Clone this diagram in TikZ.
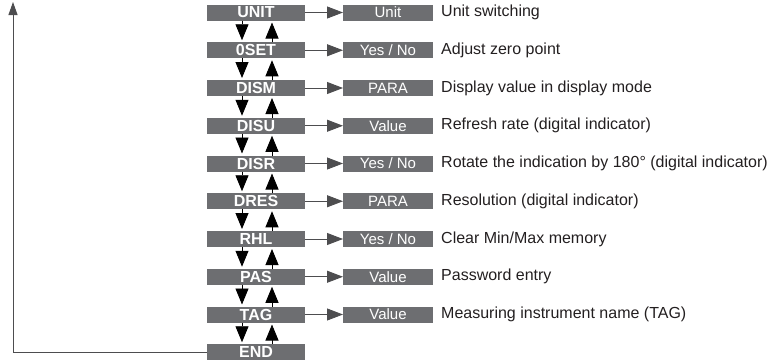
\documentclass[tikz,border=0pt]{standalone}
\usepackage{fontspec}
\setmainfont{Liberation Sans}
\usetikzlibrary{arrows.meta,positioning}
\definecolor{menuGray}{HTML}{6D6E71}
\definecolor{lineGray}{HTML}{4D4D4F}
\definecolor{textBlack}{HTML}{231F20}

\begin{document}
\begin{tikzpicture}[x=1pt, y=-1pt,
node distance=21.75pt and 38pt,
every node/.style={font=\fontsize{16}{18}\selectfont},
menu/.style={fill=menuGray, text=white, minimum width=98pt, minimum height=16pt, inner sep=0pt, outer sep=0pt, font=\fontsize{16}{18}\selectfont\bfseries},
param/.style={fill=menuGray, text=white, minimum width=90pt, minimum height=16pt, inner sep=0pt, outer sep=0pt, font=\fontsize{15}{17}\selectfont},
desc/.style={anchor=west, text=textBlack, inner sep=0pt},
arr/.style={-{Triangle[length=16pt,width=12pt]}, draw=lineGray, line width=0.9pt},
nav/.style={-{Triangle[length=16pt,width=13pt]}, draw=black, line width=0.9pt, shorten >=2pt},
back/.style={-{Triangle[length=13pt,width=9pt]}, draw=lineGray, line width=1pt}
]
\useasboundingbox (0,0) rectangle (771,362);

% Menu column
\node[menu] (mUnit) at (256,12.5) {UNIT};
\node[menu, below=of mUnit] (mZset) {0SET};
\node[menu, below=of mZset] (mDism) {DISM};
\node[menu, below=of mDism] (mDisu) {DISU};
\node[menu, below=of mDisu] (mDisr) {DISR};
\node[menu, below=of mDisr] (mDres) {DRES};
\node[menu, below=of mDres] (mRhl) {RHL};
\node[menu, below=of mRhl] (mPas) {PAS};
\node[menu, below=of mPas] (mTag) {TAG};
\node[menu, below=of mTag] (mEnd) {END};

% Parameter boxes
\node[param, right=of mUnit] (pUnit) {Unit};
\node[param, right=of mZset] (pZset) {Yes / No};
\node[param, right=of mDism] (pDism) {PARA};
\node[param, right=of mDisu] (pDisu) {Value};
\node[param, right=of mDisr] (pDisr) {Yes / No};
\node[param, right=of mDres] (pDres) {PARA};
\node[param, right=of mRhl] (pRhl) {Yes / No};
\node[param, right=of mPas] (pPas) {Value};
\node[param, right=of mTag] (pTag) {Value};

% Descriptions
\node[desc, right=8pt of pUnit] (dUnit) {Unit switching};
\node[desc, right=8pt of pZset] (dZset) {Adjust zero point};
\node[desc, right=8pt of pDism] (dDism) {Display value in display mode};
\node[desc, right=8pt of pDisu] (dDisu) {Refresh rate (digital indicator)};
\node[desc, right=8pt of pDisr] (dDisr) {Rotate the indication by 180° (digital indicator)};
\node[desc, right=8pt of pDres] (dDres) {Resolution (digital indicator)};
\node[desc, right=8pt of pRhl] (dRhl) {Clear Min/Max memory};
\node[desc, right=8pt of pPas] (dPas) {Password entry};
\node[desc, right=8pt of pTag] (dTag) {Measuring instrument name (TAG)};

% Menu to parameter
\draw[arr] (mUnit) -- (pUnit); \draw[arr] (mZset) -- (pZset); \draw[arr] (mDism) -- (pDism);
\draw[arr] (mDisu) -- (pDisu); \draw[arr] (mDisr) -- (pDisr); \draw[arr] (mDres) -- (pDres);
\draw[arr] (mRhl) -- (pRhl); \draw[arr] (mPas) -- (pPas); \draw[arr] (mTag) -- (pTag);

% Up / down navigation
\draw[nav] ([xshift=-14pt]mUnit.south) -- ([xshift=-14pt]mZset.north); \draw[nav] ([xshift=16pt]mZset.north) -- ([xshift=16pt]mUnit.south);
\draw[nav] ([xshift=-14pt]mZset.south) -- ([xshift=-14pt]mDism.north); \draw[nav] ([xshift=16pt]mDism.north) -- ([xshift=16pt]mZset.south);
\draw[nav] ([xshift=-14pt]mDism.south) -- ([xshift=-14pt]mDisu.north); \draw[nav] ([xshift=16pt]mDisu.north) -- ([xshift=16pt]mDism.south);
\draw[nav] ([xshift=-14pt]mDisu.south) -- ([xshift=-14pt]mDisr.north); \draw[nav] ([xshift=16pt]mDisr.north) -- ([xshift=16pt]mDisu.south);
\draw[nav] ([xshift=-14pt]mDisr.south) -- ([xshift=-14pt]mDres.north); \draw[nav] ([xshift=16pt]mDres.north) -- ([xshift=16pt]mDisr.south);
\draw[nav] ([xshift=-14pt]mDres.south) -- ([xshift=-14pt]mRhl.north); \draw[nav] ([xshift=16pt]mRhl.north) -- ([xshift=16pt]mDres.south);
\draw[nav] ([xshift=-14pt]mRhl.south) -- ([xshift=-14pt]mPas.north); \draw[nav] ([xshift=16pt]mPas.north) -- ([xshift=16pt]mRhl.south);
\draw[nav] ([xshift=-14pt]mPas.south) -- ([xshift=-14pt]mTag.north); \draw[nav] ([xshift=16pt]mTag.north) -- ([xshift=16pt]mPas.south);
\draw[nav] ([xshift=-14pt]mTag.south) -- ([xshift=-14pt]mEnd.north); \draw[nav] ([xshift=16pt]mEnd.north) -- ([xshift=16pt]mTag.south);

% Return from END to the start
\coordinate (loopTop) at (13,2);
\draw[back] (mEnd.west) -| (loopTop);

\end{tikzpicture}
\end{document}
